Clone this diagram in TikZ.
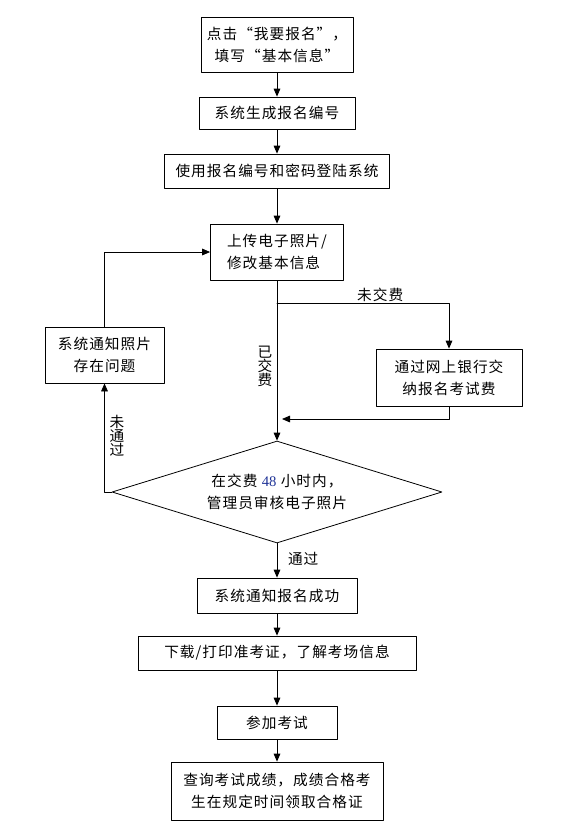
\documentclass[tikz,border=0pt]{standalone}
\usepackage{fontspec}
\setmainfont{Noto Sans CJK SC}[LetterSpace=7]
\newfontfamily\numfont{Liberation Serif}
\usetikzlibrary{arrows.meta,shapes.geometric}
\definecolor{numblue}{RGB}{30,50,150}

\begin{document}
\begin{tikzpicture}[x=0.75pt,y=-0.75pt,>={Triangle[length=6pt,width=5pt]},line cap=round,line join=round,
  font=\fontsize{11}{16.5}\selectfont,
  box/.style={draw,line width=0.6pt,inner sep=2pt,align=center},
  dec/.style={draw,line width=0.6pt,shape=diamond,inner sep=0pt,align=center,aspect=3.2},
  arr/.style={draw,line width=0.6pt,->},
  lbl/.style={inner sep=1pt,font=\fontsize{11}{13}\selectfont,align=center},
  vlbl/.style={inner sep=1pt,font=\fontsize{11}{10.5}\selectfont,align=center}]
  \useasboundingbox (0,0) rectangle (569,840);

  % main column
  \node[box,minimum width=114pt,minimum height=41.25pt] (fill) at (277,44.5) {点击“我要报名”，\\填写“基本信息”};
  \node[box,minimum width=117pt,minimum height=24pt] (gen) at (277,113) {系统生成报名编号};
  \node[box,minimum width=168.75pt,minimum height=25.5pt] (login) at (277,171) {使用报名编号和密码登陆系统};
  \node[box,minimum width=99.75pt,minimum height=42pt,align=left] (upload) at (277,252) {上传电子照片/\\修改基本信息};

  % side boxes
  \node[box,minimum width=109.5pt,minimum height=42.75pt] (pay) at (449,377.5) {通过网上银行交\\纳报名考试费};
  \node[box,minimum width=89.25pt,minimum height=42pt] (notify) at (104.5,355) {系统通知照片\\存在问题};

  % check
  \node[dec,minimum width=247.5pt,minimum height=76.5pt] (check) at (277,492) {在交费 {\numfont\color{numblue}48} 小时内，\\管理员审核电子照片};

  \node[box,minimum width=120pt,minimum height=26.25pt] (ok) at (277,595.5) {系统通知报名成功};
  \node[box,minimum width=208.5pt,minimum height=25.5pt] (print) at (277,653) {下载/打印准考证，了解考场信息};
  \node[box,minimum width=90pt,minimum height=24.75pt] (exam) at (277,722.5) {参加考试};
  \node[box,minimum width=159pt,minimum height=43.5pt] (score) at (277,791) {查询考试成绩，成绩合格考\\生在规定时间领取合格证};

  \coordinate (split) at (277,303);
  \coordinate (join) at (282,419);

  % connectors
  \draw[arr] (fill) -- (gen);
  \draw[arr] (gen) -- (login);
  \draw[arr] (login) -- (upload);
  \draw[arr] (upload) -- (check.north);
  \draw[arr] (split) -| node[lbl,pos=0.3,above] {未交费} (pay.north);
  \draw[arr] (pay.south) |- (join);
  \node[vlbl] at (265,366) {已\\交\\费};
  \draw[arr] (check.west) -| (notify.south);
  \node[vlbl] at (117,436) {未\\通\\过};
  \draw[arr] (notify.north) |- (upload.west);
  \draw[arr] (check.south) -- node[lbl,right,pos=0.45,xshift=7pt] {通过} (ok.north);
  \draw[arr] (ok) -- (print);
  \draw[arr] (print) -- (exam);
  \draw[arr] (exam) -- (score);
\end{tikzpicture}
\end{document}
